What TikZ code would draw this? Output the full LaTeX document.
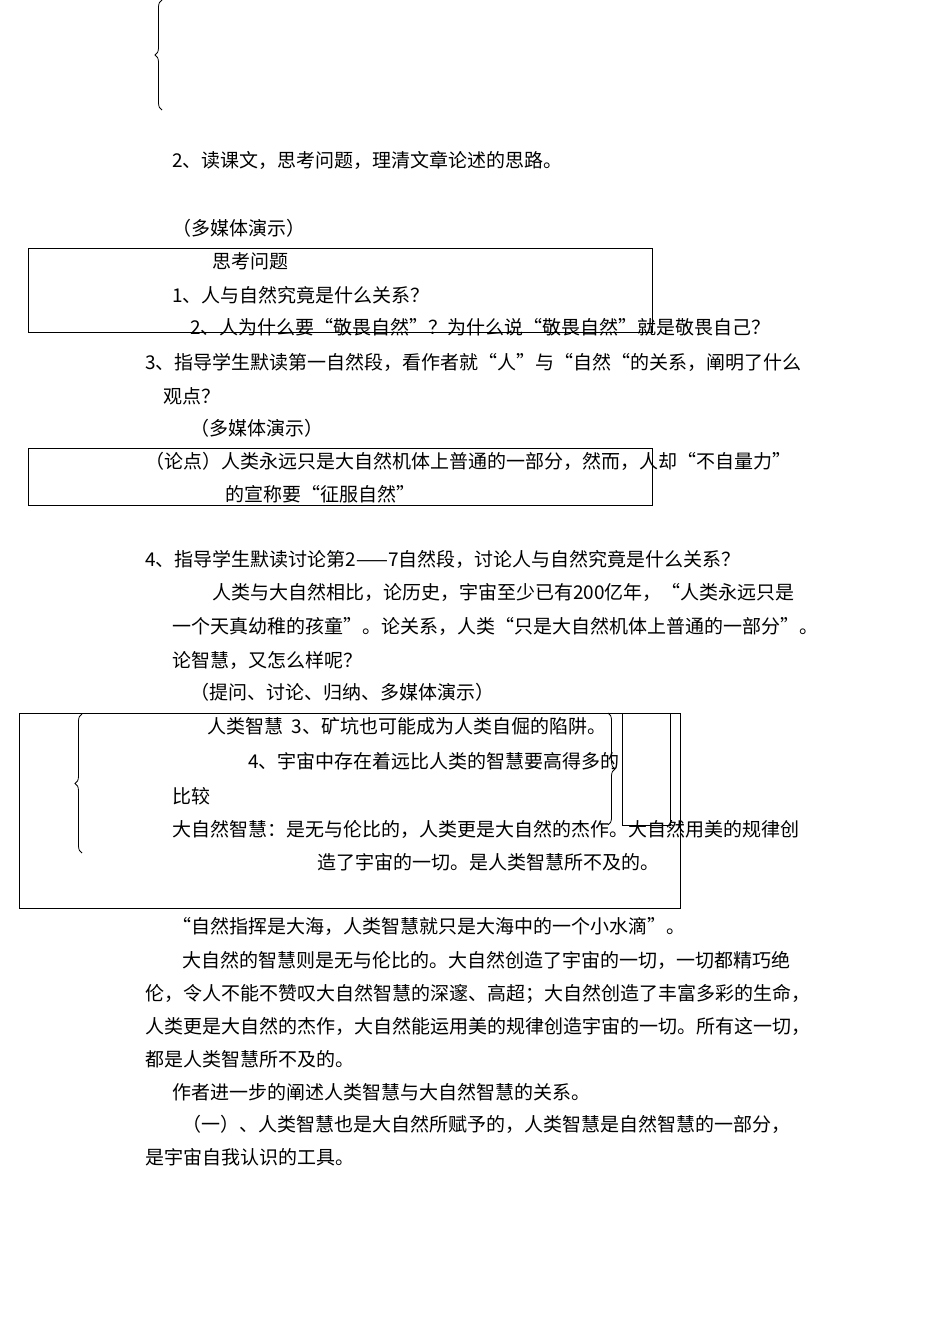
\documentclass[tikz,border=0pt]{standalone}
\usepackage{fontspec}
\setmainfont{Noto Sans CJK SC}
\usetikzlibrary{decorations.pathreplacing}
\begin{document}
\begin{tikzpicture}[x=1pt,y=-1pt,
  t/.style={anchor=west,inner sep=0pt,font=\fontsize{19}{21}\selectfont},
  bx/.style={draw,line width=0.8pt},
  br/.style={draw,line width=0.8pt,decorate,decoration={brace,amplitude=7pt}}]
\useasboundingbox (0,0) rectangle (950,1344);
\draw[br] (162,110) -- (162,0);
\node[t] (a1) at (172,160) {2、读课文，思考问题，理清文章论述的思路。};
\node[t] (a2) at (172,228) {（多媒体演示）};
\draw[bx] (28,248) rectangle (652,332);
\node[t] (a3) at (212,261) {思考问题};
\node[t] (a4) at (172,295) {1、人与自然究竟是什么关系？};
\node[t] (a5) at (190,327) {2、人为什么要“敬畏自然”？为什么说“敬畏自然”就是敬畏自己？};
\node[t] (a6) at (145,362) {3、指导学生默读第一自然段，看作者就“人”与“自然“的关系，阐明了什么};
\node[t] (a7) at (163,396) {观点？};
\node[t] (a8) at (190,428) {（多媒体演示）};
\draw[bx] (28,448) rectangle (652,505);
\node[t] (a9) at (145,461) {（论点）人类永远只是大自然机体上普通的一部分，然而，人却“不自量力”};
\node[t] (a10) at (225,494) {的宣称要“征服自然”};
\node[t] (b1) at (145,559) {4、指导学生默读讨论第2——7自然段，讨论人与自然究竟是什么关系？};
\node[t] (b2) at (212,592) {人类与大自然相比，论历史，宇宙至少已有200亿年，“人类永远只是};
\node[t] (b3) at (172,626) {一个天真幼稚的孩童”。论关系，人类“只是大自然机体上普通的一部分”。};
\node[t] (b4) at (172,660) {论智慧，又怎么样呢？};
\node[t] (b5) at (190,692) {（提问、讨论、归纳、多媒体演示）};
\draw[bx] (19,713) rectangle (680,908);
\draw[br] (82,853) -- (82,714);
\draw[br] (608,713) -- (608,825);
\draw[bx] (622,713) rectangle (670,825);
\node[t] (c1) at (207,726) {人类智慧\ \ 3、矿坑也可能成为人类自倔的陷阱。};
\node[t] (c2) at (248,761) {4、宇宙中存在着远比人类的智慧要高得多的};
\node[t] (c3) at (172,796) {比较};
\node[t] (c4) at (172,829) {大自然智慧：是无与伦比的，人类更是大自然的杰作。大自然用美的规律创};
\node[t] (c5) at (317,862) {造了宇宙的一切。是人类智慧所不及的。};
\node[t] (d1) at (172,926) {“自然指挥是大海，人类智慧就只是大海中的一个小水滴”。};
\node[t] (d2) at (182,960) {大自然的智慧则是无与伦比的。大自然创造了宇宙的一切，一切都精巧绝};
\node[t] (d3) at (145,994) {伦，令人不能不赞叹大自然智慧的深邃、高超；大自然创造了丰富多彩的生命，};
\node[t] (d4) at (145,1026) {人类更是大自然的杰作，大自然能运用美的规律创造宇宙的一切。所有这一切，};
\node[t] (d5) at (145,1059) {都是人类智慧所不及的。};
\node[t] (d6) at (172,1092) {作者进一步的阐述人类智慧与大自然智慧的关系。};
\node[t] (d7) at (182,1124) {（一）、人类智慧也是大自然所赋予的，人类智慧是自然智慧的一部分，};
\node[t] (d8) at (145,1157) {是宇宙自我认识的工具。};
\end{tikzpicture}
\end{document}
